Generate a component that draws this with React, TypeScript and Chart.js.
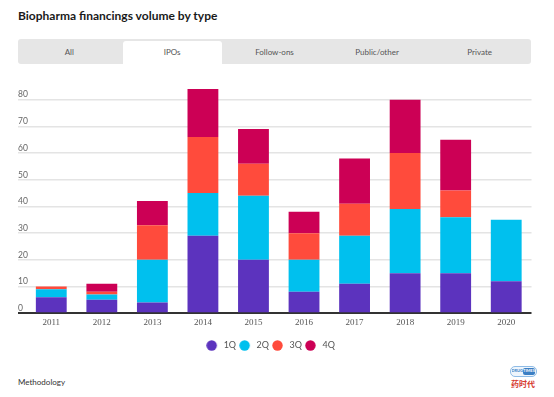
import React, { useEffect, useRef } from 'react';
import { Chart, registerables } from 'chart.js';

Chart.register(...registerables);

const years = ['2011', '2012', '2013', '2014', '2015', '2016', '2017', '2018', '2019', '2020'];
const q1 = [6, 5, 4, 29, 20, 8, 11, 15, 15, 12];
const q2 = [3, 2, 16, 16, 24, 12, 18, 24, 21, 23];
const q3 = [1, 1, 13, 21, 12, 10, 12, 21, 10, 0];
const q4 = [0, 3, 9, 18, 13, 8, 17, 20, 19, 0];
const seriesLabels = ['1Q', '2Q', '3Q', '4Q'];
const seriesColors = ['#5c33be', '#00c0ee', '#ff4b3c', '#cc0055'];
const tabs = ['All', 'IPOs', 'Follow-ons', 'Public/other', 'Private'];
const activeTab = 'IPOs';
const title = 'Biopharma financings volume by type';

function makeDot(color: string) {
  const c = document.createElement('canvas');
  c.width = 17;
  c.height = 11;
  const g = c.getContext('2d')!;
  g.fillStyle = color;
  g.beginPath();
  g.arc(5.5, 5.5, 5.2, 0, Math.PI * 2);
  g.fill();
  return c;
}

function BarChart() {
  const ref = useRef<HTMLCanvasElement | null>(null);
  useEffect(() => {
    if (!ref.current) return;
    const series = [q1, q2, q3, q4];
    const dots = seriesColors.map(makeDot);
    const chart = new Chart(ref.current, {
      type: 'bar',
      data: {
        labels: years,
        datasets: seriesLabels.map((l, i) => ({
          label: l,
          data: series[i],
          backgroundColor: seriesColors[i],
          borderWidth: 0,
          categoryPercentage: 1,
          barPercentage: 0.61,
        })),
      },
      options: {
        animation: false,
        responsive: false,
        layout: { padding: { left: 13.5, right: 22.5, top: 13.7, bottom: 0 } },
        plugins: {
          legend: {
            position: 'bottom',
            labels: {
              usePointStyle: true,
              boxWidth: 9,
              boxHeight: 9,
              padding: 7,
              color: '#555',
              font: { family: 'Lato', size: 9 },
              generateLabels: (ch: any) =>
                (Chart.defaults.plugins.legend.labels.generateLabels as any)(ch).map((it: any, i: number) => ({
                  ...it,
                  pointStyle: dots[i],
                })),
            },
          },
          tooltip: { enabled: false },
        },
        scales: {
          x: {
            stacked: true,
            grid: { display: false, drawTicks: false },
            border: { display: false },
            ticks: {
              color: '#555',
              font: { family: 'Liberation Serif', size: 9 },
              padding: 4,
              maxRotation: 0,
            },
            afterFit: (s: any) => {
              s.height = s.height + 2;
            },
          },
          y: {
            stacked: true,
            min: 0,
            max: 86,
            afterBuildTicks: (s: any) => {
              s.ticks = s.ticks.filter((t: any) => t.value % 10 === 0);
            },
            afterFit: (s: any) => {
              s.width = 12.5;
            },
            grid: {
              color: (c: any) => (c.tick && c.tick.value === 0 ? '#333' : '#e4e4e4'),
              lineWidth: (c: any) => (c.tick && c.tick.value === 0 ? 2 : 1.5),
              tickLength: 8,
              drawTicks: true,
            },
            border: { display: false },
            ticks: {
              mirror: true,
              padding: -8,
              labelOffset: -5,
              stepSize: 10,
              color: '#666',
              font: { family: 'Lato', size: 8.5 },
            },
          },
        },
      } as any,
    });
    return () => chart.destroy();
  }, []);
  return <canvas ref={ref} width={554} height={290} style={{ position: 'absolute', left: 0, top: 70, width: 554, height: 290 }} />;
}

export default function App() {
  return (
    <div style={{ position: 'fixed', left: 0, top: 0, width: 554, height: 397, background: '#fff', fontFamily: 'Lato, sans-serif', overflow: 'hidden' }}>
      <div style={{ position: 'absolute', left: 18, top: 8, fontSize: 12, fontWeight: 700, color: '#1a1a1a', whiteSpace: 'nowrap' }}>{title}</div>
      <div style={{ position: 'absolute', left: 18, top: 39, width: 513, height: 25, background: '#e6e6e6', borderRadius: 3, display: 'flex' }}>
        {tabs.map((t) => (
          <div key={t} style={{ flex: 1, position: 'relative', display: 'flex' }}>
            <div
              style={{
                position: 'absolute',
                left: t === activeTab ? 2 : 0,
                right: t === activeTab ? 1.5 : 0,
                top: t === activeTab ? 2 : 0,
                bottom: 0,
                background: t === activeTab ? '#fff' : 'transparent',
                borderRadius: '3px 3px 0 0',
                display: 'flex',
                alignItems: 'center',
                justifyContent: 'center',
                fontSize: 8,
                color: '#555',
              }}
            >
              <span style={{ position: 'relative', top: t === activeTab ? -1 : 0 }}>{t}</span>
            </div>
          </div>
        ))}
      </div>
      <BarChart />
      <div style={{ position: 'absolute', left: 18, top: 377, fontSize: 8, color: '#333' }}>Methodology</div>
      <div style={{ position: 'absolute', left: 509, top: 366, width: 28, display: 'flex', flexDirection: 'column', alignItems: 'center' }}>
        <div style={{ display: 'flex', border: '1.5px solid #8fbce6', borderRadius: 5, padding: 1, height: 11, boxSizing: 'border-box', width: 27, overflow: 'hidden', background: '#eef5fc' }}>
          <div style={{ flex: 1, fontSize: 4, color: '#3b7fc4', lineHeight: '6px', textAlign: 'center', whiteSpace: 'nowrap', overflow: 'hidden', fontWeight: 700 }}>DRUG</div>
          <div style={{ flex: 1, fontSize: 4, color: '#fff', lineHeight: '6px', textAlign: 'center', background: '#3b7fc4', borderRadius: 2, whiteSpace: 'nowrap', overflow: 'hidden', fontWeight: 700 }}>TIMES</div>
        </div>
        <div style={{ fontFamily: '"Noto Sans CJK SC"', fontSize: 8, lineHeight: '10px', color: '#d63a2f', fontWeight: 700, marginTop: 2, whiteSpace: 'nowrap' }}>药时代</div>
      </div>
    </div>
  );
}
